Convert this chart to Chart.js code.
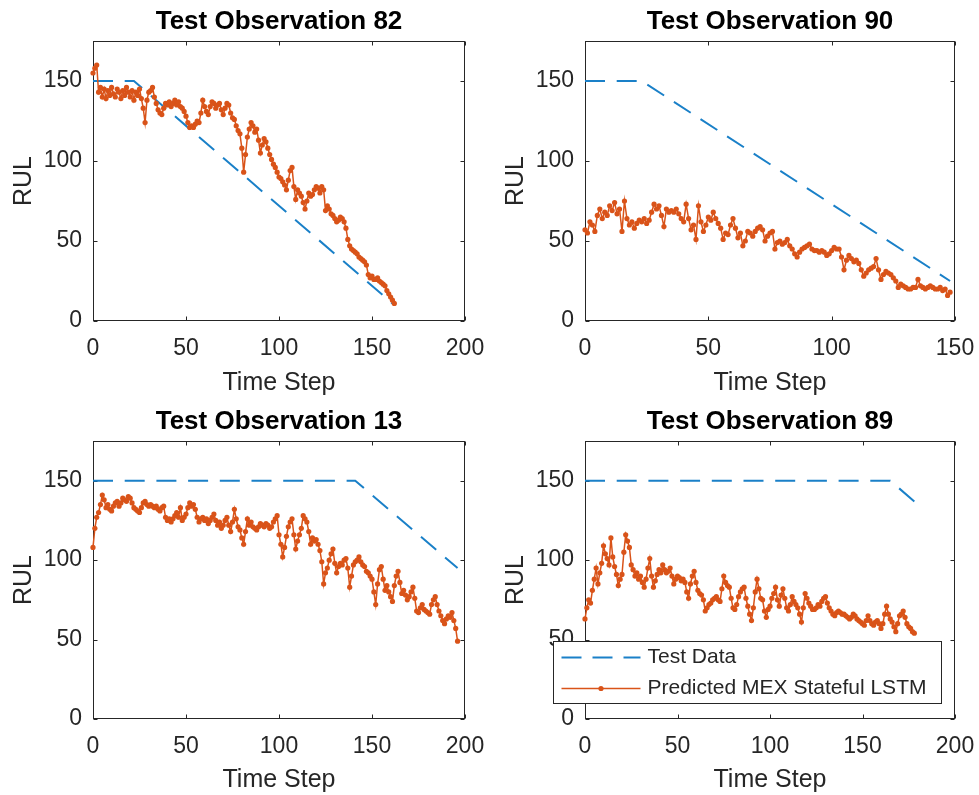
<!DOCTYPE html>
<html>
<head>
<meta charset="utf-8">
<script src="https://cdn.jsdelivr.net/npm/chart.js@4.4.0/dist/chart.umd.min.js"></script>
<style>
    html, body { margin: 0; padding: 0; background: #fff; width: 979px; height: 795px; overflow: hidden; }
    canvas { position: absolute; }
</style>
</head>
<body>
<canvas id="obs82"></canvas>
<canvas id="obs90"></canvas>
<canvas id="obs13"></canvas>
<canvas id="obs89"></canvas>
<script>
// RUL predictions, one value per time step (time step = index)
const predicted82 = [155,158,160,143,146,140,145,139,144,141,
    146,142,140,145,143,139,144,141,146,143,
    140,144,138,143,141,145,139,133,124,138,
    143,144,146,140,136,132,130,129,133,136,
    135,137,134,136,138,135,137,134,133,131,
    128,124,121,122,121,123,125,124,130,138,
    134,131,129,134,137,136,133,135,136,132,
    129,133,136,135,130,127,126,122,119,117,
    108,93,104,115,120,124,122,118,120,113,
    105,110,114,112,108,104,101,98,96,93,
    90,89,87,85,82,88,94,96,84,76,
    82,80,78,74,70,75,80,78,79,82,
    84,83,80,84,82,69,72,70,67,66,
    64,62,63,65,64,62,58,51,47,45,
    44,43,42,40,39,38,37,35,29,27,
    28,26,26,27,25,24,23,22,19,17,
    15,13,11];
const predicted90 = [57,55,62,60,56,66,70,64,68,66,
    72,69,74,67,70,56,75,64,60,62,
    58,61,63,62,64,61,63,68,73,70,
    72,66,59,70,68,69,68,70,67,64,
    62,73,64,57,60,51,72,62,56,60,
    65,63,68,64,61,58,51,55,54,60,
    64,58,52,55,47,50,56,55,53,56,
    58,59,57,50,53,55,56,45,49,50,
    48,49,51,47,45,42,40,43,45,46,
    47,48,45,44,44,43,44,43,41,42,
    44,46,45,45,40,32,38,41,39,37,
    38,36,32,28,30,32,33,34,39,32,
    26,29,31,30,29,27,25,21,23,22,
    21,20,20,21,21,26,22,21,20,21,
    22,21,20,20,21,19,20,16,18];
const predicted13 = [108,120,127,130,135,141,138,133,135,132,
    131,134,136,137,134,136,139,138,137,140,
    139,136,133,132,131,130,133,136,137,135,
    134,135,134,133,134,132,131,133,134,127,
    125,126,124,126,128,130,127,133,125,127,
    129,133,136,134,135,132,127,124,126,127,
    125,126,123,125,127,129,125,122,124,120,
    122,125,127,122,118,124,132,126,121,119,
    114,110,118,126,122,124,121,120,119,121,
    123,122,121,123,122,120,121,124,126,128,
    116,110,102,108,115,121,124,126,116,107,
    112,116,120,128,126,124,118,110,114,112,
    113,110,106,99,85,92,95,100,104,107,
    98,92,96,98,97,100,101,95,83,90,
    97,99,100,102,99,97,96,93,92,90,
    88,80,72,85,94,96,88,81,84,80,
    77,74,84,90,93,86,79,81,78,75,
    77,80,83,76,68,67,70,72,69,68,
    67,66,72,75,77,72,68,65,62,60,
    63,65,64,67,62,57,49];
const predicted89 = [63,70,75,73,81,88,95,85,92,98,
    109,104,101,97,114,102,96,91,84,88,
    91,105,116,112,108,97,94,90,92,88,
    90,86,83,88,95,101,90,83,87,91,
    94,92,97,94,92,93,95,90,85,88,
    90,89,87,88,86,80,76,85,90,93,
    86,81,79,78,75,68,70,72,73,75,
    76,77,75,74,82,90,86,84,83,76,
    70,69,72,77,80,82,83,76,71,66,
    62,70,80,88,82,76,75,68,64,69,
    71,76,79,83,75,71,78,82,76,70,
    68,72,77,74,72,70,66,61,70,79,
    76,73,71,69,69,70,72,71,74,76,
    77,73,70,68,66,65,67,68,67,66,
    66,65,64,63,64,66,65,63,62,
    61,60,59,62,65,62,60,59,61,
    62,60,57,60,66,71,66,63,61,58,
    55,60,65,66,68,64,60,58,57,55,54];

// Test data (true RUL): corners of the piecewise line
const testX82 = [0, 22, 162];
const testY82 = [150, 150, 10];
const testX90 = [0, 23, 148];
const testY90 = [150, 150, 25];
const testX13 = [0, 141, 196];
const testY13 = [150, 150, 95];
const testX89 = [0, 165, 179];
const testY89 = [150, 150, 136];

// Axis ticks
const yTicks = [0, 50, 100, 150];
const xTicks200 = [0, 50, 100, 150, 200];
const xTicks150 = [0, 50, 100, 150];

const observationIds = [82, 90, 13, 89];
const seriesNames = ['Test Data', 'Predicted MEX Stateful LSTM'];

const BLUE = '#1a80c8';
const ORANGE = '#D95319';
const AXIS_GRAY = '#262626';
const FONT = "'Liberation Sans', Arial, Helvetica, sans-serif";

Chart.defaults.font.family = FONT;
Chart.defaults.color = AXIS_GRAY;

// Box with inward tick marks, like MATLAB axes
const matlabAxes = {
    id: 'matlabAxes',
    beforeDatasetsDraw(chart) {
        const {ctx, chartArea: a, scales: {x, y}} = chart;
        const left = Math.round(a.left) + 0.5, right = Math.round(a.right) - 0.5;
        const top = Math.round(a.top) + 0.5, bottom = Math.round(a.bottom) - 0.5;
        ctx.save();
        ctx.strokeStyle = AXIS_GRAY;
        ctx.lineWidth = 1;
        ctx.beginPath();
        x.ticks.forEach(t => {
            const px = Math.round(x.getPixelForValue(t.value)) + 0.5;
            ctx.moveTo(px, bottom); ctx.lineTo(px, bottom - 4);
            ctx.moveTo(px, top); ctx.lineTo(px, top + 4);
        });
        y.ticks.forEach(t => {
            const py = Math.round(y.getPixelForValue(t.value)) + 0.5;
            ctx.moveTo(left, py); ctx.lineTo(left + 4, py);
            ctx.moveTo(right, py); ctx.lineTo(right - 4, py);
        });
        ctx.stroke();
        ctx.strokeRect(left, top, right - left, bottom - top);
        ctx.restore();
    }
};

// Legend box drawn over the last subplot
const legendBox = {
    id: 'legendBox',
    afterDraw(chart) {
        const {ctx, chartArea: a} = chart;
        const bx = Math.round(a.left - 32) + 0.5, by = Math.round(a.top + 200) + 0.5;
        const bw = Math.round(a.right - 14 - (a.left - 32)), bh = 62;
        ctx.save();
        ctx.fillStyle = '#fff';
        ctx.fillRect(bx, by, bw, bh);
        ctx.strokeStyle = AXIS_GRAY;
        ctx.lineWidth = 1;
        ctx.strokeRect(bx, by, bw, bh);

        const row1 = by + 16, row2 = by + 47;
        ctx.lineWidth = 2;
        ctx.strokeStyle = BLUE;
        ctx.setLineDash([20, 11]);
        ctx.beginPath(); ctx.moveTo(bx + 8, row1); ctx.lineTo(bx + 87, row1); ctx.stroke();
        ctx.setLineDash([]);
        ctx.lineWidth = 1.5;
        ctx.strokeStyle = ORANGE;
        ctx.beginPath(); ctx.moveTo(bx + 8, row2); ctx.lineTo(bx + 87, row2); ctx.stroke();
        ctx.fillStyle = ORANGE;
        ctx.beginPath(); ctx.arc(bx + 47.5, row2, 2.6, 0, Math.PI * 2); ctx.fill();

        ctx.fillStyle = AXIS_GRAY;
        ctx.font = '21px ' + FONT;
        ctx.textBaseline = 'middle';
        ctx.textAlign = 'left';
        ctx.fillText(seriesNames[0], bx + 94, row1);
        ctx.fillText(seriesNames[1], bx + 94, row2);
        ctx.restore();
    }
};

function toPoints(xs, ys) {
    return xs.map((x, i) => ({x: x, y: ys[i]}));
}

/**
 * Build one subplot. Box = axes rectangle in page pixels.
 */
function createSubplot(canvasId, obs, predicted, testX, testY, xTicks, box, withLegend) {
    const canvas = document.getElementById(canvasId);
    const rowTop = box.top < 400 ? 0 : 400;
    const canvasLeft = box.left - 93;
    const width = box.right - box.left + 186;   // symmetric around the axes, so the title centres
    const height = 400;
    canvas.width = width;
    canvas.height = height;
    canvas.style.left = canvasLeft + 'px';
    canvas.style.top = rowTop + 'px';
    canvas.style.width = width + 'px';
    canvas.style.height = height + 'px';

    const titleBox = box.top - rowTop;
    const xAxisBox = height - (box.bottom - rowTop);
    const xTitlePad = rowTop === 0 ? 2 : 4.5;

    return new Chart(canvas, {
        type: 'line',
        data: {
            datasets: [
                {
                    label: seriesNames[1],
                    data: predicted.map((v, i) => ({x: i, y: v})),
                    borderColor: ORANGE,
                    backgroundColor: ORANGE,
                    borderWidth: 1.5,
                    pointRadius: 2.6,
                    pointBorderWidth: 0,
                    pointBackgroundColor: ORANGE,
                    tension: 0,
                    clip: false,
                    order: 0
                },
                {
                    label: seriesNames[0],
                    data: toPoints(testX, testY),
                    borderColor: BLUE,
                    borderWidth: 2,
                    borderDash: [20, 11.7],
                    pointRadius: 0,
                    tension: 0,
                    clip: false,
                    order: 1
                }
            ]
        },
        options: {
            responsive: false,
            animation: false,
            devicePixelRatio: 1,
            events: [],
            layout: { padding: 0 },
            plugins: {
                legend: { display: false },
                tooltip: { enabled: false },
                title: {
                    display: true,
                    text: 'Test Observation ' + obs,
                    color: '#000',
                    font: { size: 26, weight: 'bold' },
                    padding: { top: 6.2, bottom: titleBox - 6.2 - 31.2 }
                }
            },
            scales: {
                x: {
                    type: 'linear',
                    min: 0,
                    max: xTicks[xTicks.length - 1],
                    afterBuildTicks: s => { s.ticks = xTicks.map(v => ({value: v})); },
                    afterFit: s => { s.height = xAxisBox; },
                    grid: { display: false, drawTicks: false },
                    border: { display: false },
                    ticks: { autoSkip: false, maxRotation: 0, padding: 14, color: AXIS_GRAY, font: { size: 23 } },
                    title: {
                        display: true,
                        text: 'Time Step',
                        color: AXIS_GRAY,
                        font: { size: 25 },
                        padding: { top: 0, bottom: xTitlePad }
                    }
                },
                y: {
                    type: 'linear',
                    min: 0,
                    max: 175,
                    afterBuildTicks: s => { s.ticks = yTicks.map(v => ({value: v})); },
                    afterFit: s => { s.width = 93; },
                    grid: { display: false, drawTicks: false },
                    border: { display: false },
                    ticks: { autoSkip: false, padding: 11, color: AXIS_GRAY, font: { size: 23 } },
                    title: {
                        display: true,
                        text: 'RUL',
                        color: AXIS_GRAY,
                        font: { size: 25 },
                        padding: { top: 9.6, bottom: 0 }
                    }
                },
                // empty right-hand spacer so the plot box sits where it should
                yr: {
                    type: 'linear',
                    position: 'right',
                    min: 0,
                    max: 175,
                    afterFit: s => { s.width = 93; },
                    grid: { display: false, drawTicks: false },
                    border: { display: false },
                    ticks: { display: false }
                }
            }
        },
        plugins: withLegend ? [matlabAxes, legendBox] : [matlabAxes]
    });
}

createSubplot('obs82', observationIds[0], predicted82, testX82, testY82, xTicks200,
    { left: 93, right: 465, top: 41, bottom: 321 }, false);
createSubplot('obs90', observationIds[1], predicted90, testX90, testY90, xTicks150,
    { left: 585, right: 955, top: 41, bottom: 321 }, false);
createSubplot('obs13', observationIds[2], predicted13, testX13, testY13, xTicks200,
    { left: 93, right: 465, top: 441, bottom: 719 }, false);
createSubplot('obs89', observationIds[3], predicted89, testX89, testY89, xTicks200,
    { left: 585, right: 955, top: 441, bottom: 719 }, true);
</script>
</body>
</html>
